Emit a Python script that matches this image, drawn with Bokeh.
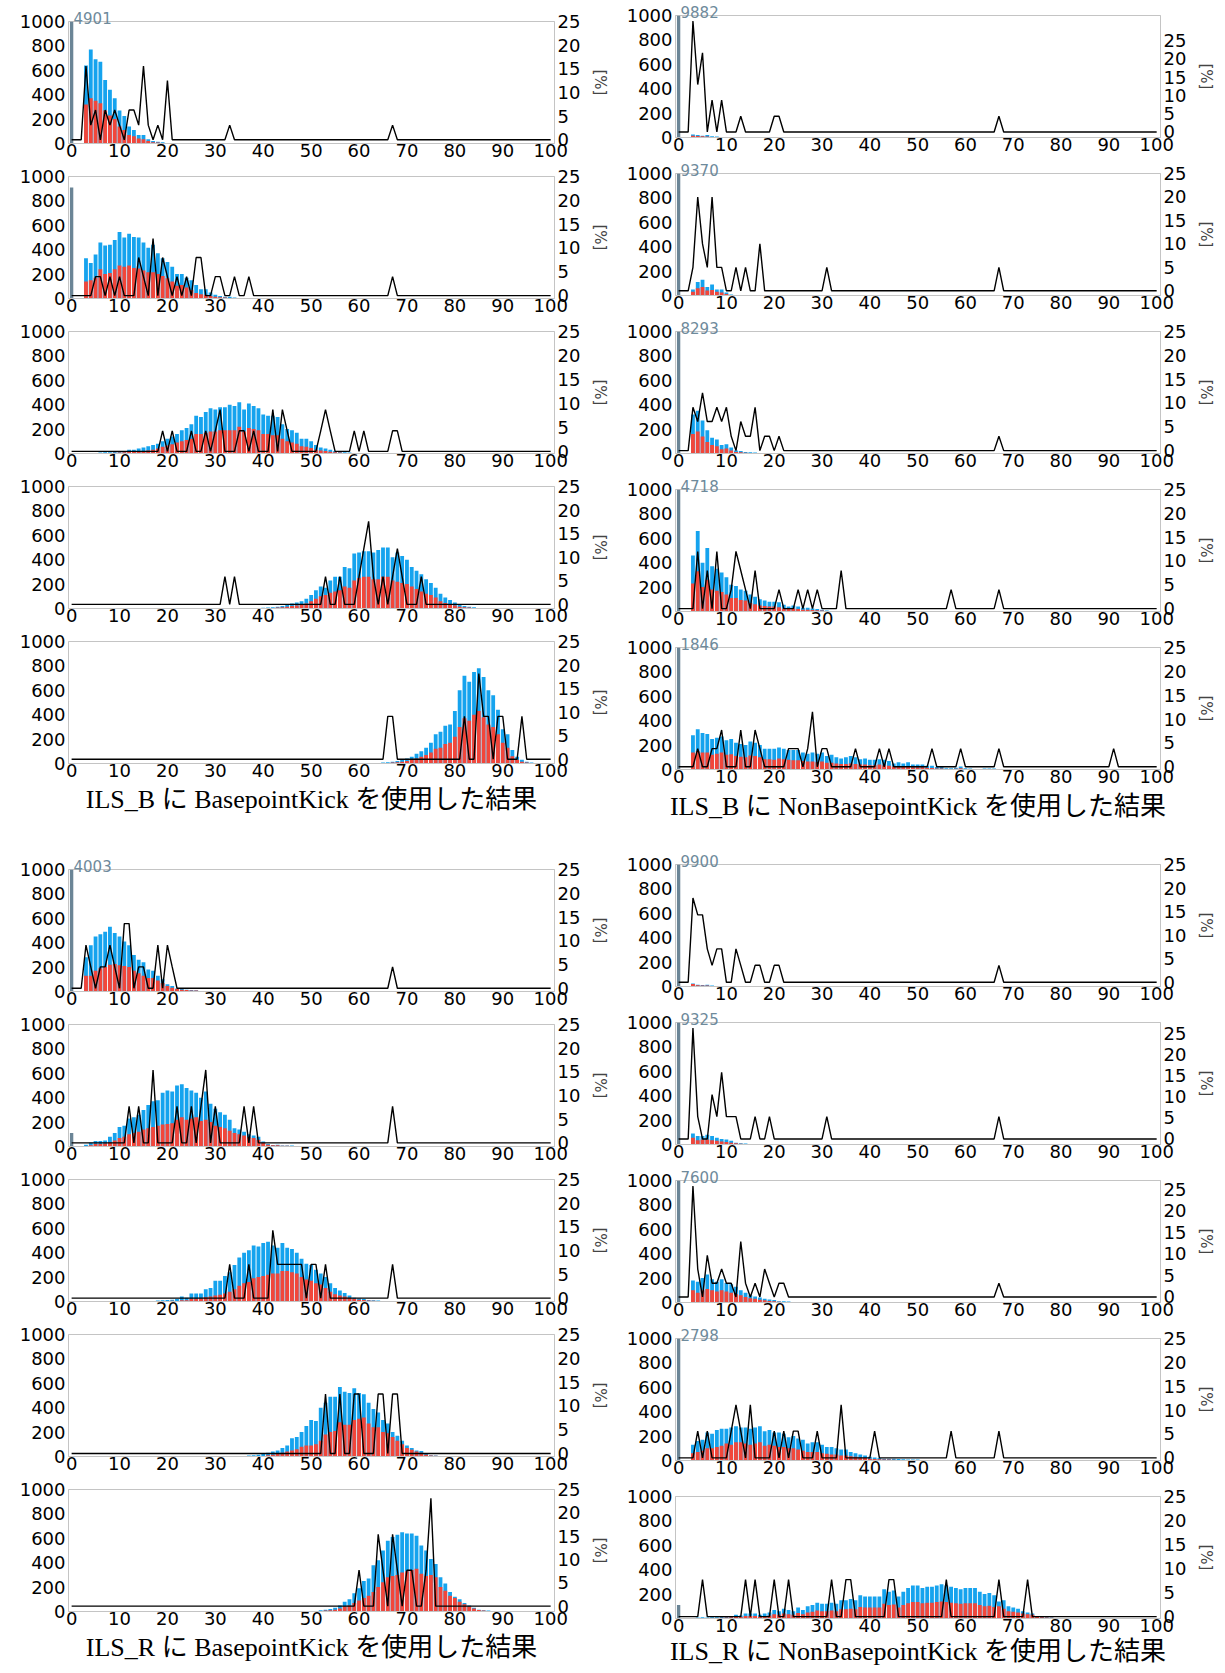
from bokeh.plotting import figure
from bokeh.layouts import column, row
from bokeh.models import Range1d, LinearAxis, FixedTicker, Spacer
from bokeh.embed import file_html
from bokeh.resources import INLINE

# ---------------- data ----------------
X_TICKS = list(range(0, 101, 10))
COUNT_TICKS = [0, 200, 400, 600, 800, 1000]
PCT_TICKS = [0, 5, 10, 15, 20, 25]

CAPTIONS = [
    "ILS_B に BasepointKick を使用した結果",
    "ILS_B に NonBasepointKick を使用した結果",
    "ILS_R に BasepointKick を使用した結果",
    "ILS_R に NonBasepointKick を使用した結果",
]

# ILS_B + BasepointKick (left, top group)
LB1_GRAY = 4901
LB1_START = 3
LB1_BLUE = [640, 770, 690, 670, 520, 440, 370, 270, 225, 140, 110, 70, 70, 35, 20, 15, 10, 5, 3, 5]
LB1_RED = [320, 370, 350, 330, 270, 230, 200, 140, 110, 70, 60, 40, 35, 20, 10, 8, 5, 3]
LB1_PCT = {3: 15.6, 4: 3.1, 5: 6.3, 7: 6.3, 8: 3.1, 9: 6.3, 10: 3.1, 12: 6.3, 13: 6.3, 14: 3.1,
           15: 15.6, 16: 3.1, 18: 3.1, 20: 12.5, 33: 3.1, 67: 3.1}

LB2_GRAY = 910
LB2_START = 3
LB2_BLUE = [330, 290, 360, 460, 435, 440, 480, 545, 500, 530, 505, 500, 460, 415, 440, 370, 330, 300,
            260, 200, 200, 170, 150, 110, 75, 75, 50, 30, 20, 15, 15, 8, 5, 5, 5, 3, 3, 3]
LB2_RED = [140, 150, 170, 240, 200, 210, 240, 270, 260, 270, 250, 245, 230, 215, 215, 200, 185, 165,
           140, 105, 110, 90, 70, 45, 35, 30, 20, 15, 10, 8, 5, 3]
LB2_PCT = {5: 4, 6: 4, 8: 4, 10: 4, 14: 8, 15: 4, 17: 12, 19: 8, 20: 4, 22: 4, 24: 4, 26: 8, 27: 8,
           30: 4, 31: 4, 34: 4, 37: 4, 67: 4}

LB3_GRAY = 0
LB3_START = 1
LB3_BLUE = [3, 3, 5, 5, 5, 8, 10, 10, 12, 15, 20, 30, 30, 40, 50, 60, 70, 80, 100, 120,
            140, 160, 190, 210, 240, 310, 300, 340, 370, 360, 380, 380, 400, 390, 420, 360, 410, 390, 370, 320,
            310, 310, 300, 240, 200, 190, 170, 120, 120, 100, 70, 50, 40, 30, 20, 15, 10, 8, 5, 5, 3, 3]
LB3_RED = [1, 1, 2, 2, 2, 4, 5, 5, 6, 8, 10, 15, 15, 20, 20, 25, 30, 40, 55, 65,
           75, 90, 100, 110, 120, 160, 160, 170, 180, 180, 190, 190, 190, 190, 220, 180, 210, 200, 190, 160,
           160, 150, 150, 120, 100, 90, 80, 60, 55, 45, 30, 25, 20, 15, 10, 8, 5, 4, 3, 2, 2, 1]
LB3_PCT = {19: 4.3, 21: 4.3, 25: 4.3, 28: 4.3, 30: 4.3, 31: 8.7, 35: 4.3, 36: 4.3, 38: 4.3, 42: 8.7,
           44: 8.7, 45: 4.3, 52: 4.3, 53: 8.7, 54: 4.3, 59: 4.3, 61: 4.3, 67: 4.3, 68: 4.3}

LB4_GRAY = 0
LB4_START = 31
LB4_BLUE = [3, 3, 3, 4, 4, 5, 5, 5, 5, 6, 8, 10, 15, 20, 30, 40, 50, 60, 80, 110,
            150, 180, 170, 230, 260, 260, 340, 330, 450, 460, 470, 470, 460, 480, 500, 500, 420, 460, 430, 400,
            340, 310, 280, 240, 210, 170, 120, 90, 70, 50, 30, 20, 15, 10, 5, 5, 3]
LB4_RED = [1, 1, 1, 2, 2, 2, 2, 3, 3, 3, 4, 5, 8, 10, 15, 20, 25, 30, 40, 60,
           80, 100, 110, 130, 140, 150, 180, 170, 230, 250, 260, 260, 240, 240, 260, 260, 230, 220, 210, 200,
           180, 160, 140, 120, 110, 90, 60, 45, 35, 25, 15, 10, 8, 5, 3, 2, 1]
LB4_PCT = {32: 5.9, 34: 5.9, 53: 5.9, 56: 5.9, 60: 5.9, 61: 11.8, 62: 17.6, 63: 5.9, 65: 5.9,
           67: 5.9, 68: 11.8, 69: 5.9, 73: 5.9}

LB5_GRAY = 0
LB5_START = 61
LB5_BLUE = [3, 3, 5, 5, 8, 10, 15, 20, 30, 40, 55, 80, 100, 130, 170, 240, 260, 310, 320, 430,
            600, 720, 670, 750, 780, 710, 600, 560, 440, 280, 240, 110, 55, 30, 15, 8, 4]
LB5_RED = [1, 1, 2, 2, 4, 5, 8, 10, 15, 20, 30, 40, 55, 70, 90, 120, 130, 160, 170, 220,
           300, 370, 350, 400, 430, 380, 320, 300, 240, 170, 130, 60, 30, 15, 8, 4, 2]
LB5_PCT = {66: 9.1, 67: 9.1, 82: 9.1, 85: 18.2, 86: 9.1, 87: 9.1, 89: 9.1, 90: 9.1, 94: 9.1}

# ILS_B + NonBasepointKick (right, top group)
RB1_GRAY = 9882
RB1_START = 3
RB1_BLUE = [25, 20, 15, 20, 10, 8, 5, 3, 3, 2, 2, 2]
RB1_RED = [15, 12, 10, 8, 5, 4, 3, 2, 1, 1, 1, 1]
RB1_PCT = {3: 30.4, 4: 13.0, 5: 21.7, 7: 8.7, 9: 8.7, 13: 4.3, 20: 4.3, 21: 4.3, 67: 4.3}

RB2_GRAY = 9370
RB2_START = 3
RB2_BLUE = [50, 110, 130, 70, 90, 50, 50, 25, 8, 5, 3, 2, 2, 2, 3]
RB2_RED = [30, 60, 70, 40, 45, 30, 25, 12, 5, 3, 2, 1, 1, 1, 2]
RB2_PCT = {3: 5, 4: 20, 5: 10, 6: 5, 7: 20, 8: 5, 9: 5, 12: 5, 14: 5, 17: 10, 31: 5, 67: 5}

RB3_GRAY = 8293
RB3_START = 3
RB3_BLUE = [320, 350, 270, 190, 130, 115, 70, 75, 50, 25, 20, 12, 10, 8, 5, 5, 3, 3, 2, 2, 2, 2, 2, 2, 2, 2]
RB3_RED = [160, 180, 140, 95, 70, 60, 35, 40, 25, 12, 10, 6, 5, 4, 3, 2, 2, 1]
RB3_PCT = {3: 9.1, 4: 6.1, 5: 12.1, 6: 6.1, 7: 6.1, 8: 9.1, 9: 6.1, 10: 9.1, 11: 3.0, 13: 6.1,
           14: 3.0, 15: 3.0, 16: 9.1, 18: 3.0, 19: 3.0, 21: 3.0, 67: 3.0}

RB4_GRAY = 4718
RB4_START = 3
RB4_BLUE = [460, 660, 400, 520, 370, 350, 320, 280, 220, 210, 180, 170, 140, 120, 100, 90, 80, 80,
            75, 55, 40, 50, 40, 30, 30, 25, 20, 15, 8, 5, 5, 5, 3, 3, 3, 2, 2, 2, 2, 2,
            2, 2, 2, 2, 2, 2, 2, 2, 2, 2]
RB4_RED = [230, 330, 200, 260, 180, 170, 160, 140, 110, 110, 95, 90, 70, 60, 50, 45, 40, 40,
           35, 25, 20, 25, 20, 15, 15, 12, 10, 8, 4, 3, 3, 2, 2, 1, 1, 1, 1, 1]
RB4_PCT = {4: 12, 6: 8, 8: 12, 11: 4, 12: 12, 13: 8, 14: 4, 16: 8, 21: 4, 25: 4, 27: 4, 29: 4,
           34: 8, 57: 4, 67: 4}

RB5_GRAY = 1846
RB5_START = 3
RB5_BLUE = [280, 330, 300, 290, 250, 260, 270, 240,
            250, 220, 210, 200, 230, 220, 200, 170, 170, 170,
            180, 170, 160, 160, 160, 140, 130, 140, 130, 140,
            110, 120, 100, 90, 100, 110, 100, 85, 90, 80,
            80, 85, 80, 70, 50, 60, 50, 60, 40, 40,
            40, 30, 30, 20, 20, 10, 10, 15, 25, 10,
            8, 5, 5, 8, 8, 8, 5, 3, 3, 3, 2, 2, 2, 2, 2]
RB5_RED = [140, 150, 140, 140, 120, 130, 140, 120,
           125, 110, 105, 100, 115, 110, 100, 85, 85, 80,
           90, 85, 80, 75, 75, 70, 65, 65, 60, 65,
           55, 55, 50, 45, 45, 50, 45, 40, 40, 35,
           35, 40, 35, 30, 25, 25, 25, 25, 18, 18,
           18, 12, 12, 8, 8, 5, 5, 6, 10, 5,
           4, 3, 3, 4, 4, 4, 3, 2, 2, 2, 1, 1, 1, 1, 1]
RB5_PCT = {4: 3.8, 7: 3.8, 8: 3.8, 9: 7.7, 13: 7.7, 16: 7.7, 17: 3.8, 23: 3.8, 24: 3.8, 25: 3.8,
           27: 3.8, 28: 11.5, 30: 3.8, 31: 3.8, 37: 3.8, 42: 3.8, 44: 3.8, 53: 3.8, 59: 3.8,
           67: 3.8, 91: 3.8}

# ILS_R + BasepointKick (left, bottom group)
LR1_GRAY = 4003
LR1_START = 3
LR1_BLUE = [280, 380, 450, 470, 490, 530, 480, 450, 410, 380, 300, 260, 240, 180, 170, 130, 100, 60,
            45, 25, 20, 15, 12, 10, 5, 5, 3, 3]
LR1_RED = [130, 130, 170, 190, 200, 220, 225, 215, 210, 200, 170, 150, 130, 110, 110, 90, 70, 45,
           30, 20, 15, 12, 8, 8, 5, 4, 3, 3]
LR1_PCT = {3: 9.1, 4: 4.5, 6: 4.5, 7: 4.5, 8: 9.1, 9: 4.5, 11: 13.6, 12: 13.6, 14: 4.5, 15: 4.5,
           18: 9.1, 20: 9.1, 21: 4.5, 67: 4.5}

LR2_GRAY = 110
LR2_START = 3
LR2_BLUE = [15, 30, 45, 45, 50, 80, 110, 160,
            170, 230, 240, 260, 300, 340, 370, 380, 440, 460,
            450, 500, 510, 480, 460, 440, 400, 450, 350, 310,
            280, 260, 220, 150, 140, 120, 100, 90, 80, 40,
            20, 12, 15, 8, 8, 8, 5, 5, 3, 3, 3, 2]
LR2_RED = [5, 10, 20, 20, 25, 35, 50, 70,
           80, 100, 110, 120, 140, 150, 160, 170, 180, 185,
           190, 220, 240, 220, 230, 240, 210, 220, 200, 170,
           160, 150, 130, 110, 100, 90, 75, 70, 55, 30,
           15, 10, 10, 6, 6, 5, 4, 3, 2, 2, 1, 1]
LR2_PCT = {12: 7.7, 14: 7.7, 17: 15.4, 22: 7.7, 25: 7.7, 27: 7.7, 28: 15.4, 30: 7.7, 36: 7.7,
           38: 7.7, 67: 7.7}

LR3_GRAY = 0
LR3_START = 14
LR3_BLUE = [3, 3, 5, 5, 8, 10, 12,
            15, 20, 40, 30, 65, 65, 65, 100, 110, 170,
            170, 210, 240, 300, 360, 400, 420, 460, 450, 480,
            490, 460, 440, 480, 440, 430, 400, 350, 310, 300,
            260, 230, 200, 150, 110, 90, 70, 50, 30, 25,
            20, 12, 10, 8, 5, 5, 3]
LR3_RED = [1, 1, 2, 2, 3, 4, 5,
           6, 5, 10, 10, 20, 20, 25, 35, 40, 50,
           55, 65, 80, 100, 130, 150, 160, 190, 200, 210,
           220, 230, 230, 250, 250, 240, 230, 200, 180, 170,
           150, 140, 110, 80, 60, 50, 40, 30, 20, 15,
           12, 8, 6, 5, 4, 3, 3]
LR3_PCT = {33: 7.1, 37: 7.1, 42: 14.3, 43: 7.1, 44: 7.1, 45: 7.1, 46: 7.1, 47: 7.1, 48: 7.1,
           50: 7.1, 51: 7.1, 53: 7.1, 67: 7.1}

LR4_GRAY = 0
LR4_START = 35
LR4_BLUE = [3, 5, 8, 10, 15, 20,
            30, 40, 50, 70, 90, 150, 160, 200, 250, 300,
            290, 400, 440, 490, 490, 570, 530, 520, 560, 520,
            510, 440, 390, 360, 300, 270, 200, 170, 130, 90,
            70, 50, 45, 20, 10, 8, 5, 3]
LR4_RED = [1, 2, 3, 4, 5, 5,
           10, 15, 20, 30, 40, 50, 60, 80, 90, 90,
           100, 130, 180, 200, 210, 280, 260, 260, 300, 310,
           320, 270, 240, 240, 200, 190, 160, 130, 100, 70,
           55, 40, 30, 15, 8, 6, 4, 3]
LR4_PCT = {53: 12.5, 56: 12.5, 59: 12.5, 60: 12.5, 64: 12.5, 65: 12.5, 67: 12.5, 68: 12.5}

LR5_GRAY = 0
LR5_START = 46
LR5_BLUE = [3, 3, 3, 3, 5,
            5, 10, 15, 20, 30, 50, 80, 100, 150, 190,
            250, 270, 380, 420, 500, 580, 610, 630, 650, 640,
            640, 620, 540, 500, 430, 390, 280, 230, 160, 120,
            100, 70, 50, 30, 15, 10, 8, 5, 3]
LR5_RED = [1, 1, 1, 1, 2,
           3, 5, 8, 10, 15, 25, 40, 50, 70, 90,
           110, 130, 160, 200, 240, 280, 290, 300, 320, 330,
           340, 350, 310, 290, 300, 280, 200, 170, 130, 110,
           80, 60, 40, 25, 12, 8, 5, 4, 3]
LR5_PCT = {60: 7.7, 64: 15.4, 65: 7.7, 67: 15.4, 68: 7.7, 70: 7.7, 71: 7.7, 74: 7.7, 75: 23.1}

# ILS_R + NonBasepointKick (right, bottom group)
RR1_GRAY = 9900
RR1_START = 3
RR1_BLUE = [25, 15, 12, 15, 8, 5, 5, 3, 3, 3]
RR1_RED = [20, 10, 8, 8, 5, 3, 3, 2, 2, 2]
RR1_PCT = {3: 17.9, 4: 14.3, 5: 14.3, 6: 7.1, 7: 3.6, 8: 7.1, 9: 7.1, 12: 7.1, 13: 3.6, 16: 3.6,
           17: 3.6, 20: 3.6, 21: 3.6, 67: 3.6}

RR2_GRAY = 9325
RR2_START = 3
RR2_BLUE = [90, 70, 70, 80, 70, 55, 45, 40, 30, 15, 10, 8, 5, 5, 3, 3, 2, 2, 2, 2, 2, 2]
RR2_RED = [55, 35, 40, 40, 35, 30, 25, 20, 15, 10, 6, 5, 4, 3, 2, 2, 2, 2, 2, 2, 2, 2]
RR2_PCT = {3: 26.3, 4: 5.3, 7: 10.5, 8: 5.3, 9: 15.8, 10: 5.3, 11: 5.3, 12: 5.3, 16: 5.3, 19: 5.3,
           31: 5.3, 67: 5.3}

RR3_GRAY = 7600
RR3_START = 3
RR3_BLUE = [180, 170, 200, 230, 190, 170, 190, 160, 150, 130, 100, 80, 60, 50, 40, 30, 25, 20,
            10, 10, 8, 5, 5, 5, 3, 3, 5, 3]
RR3_RED = [100, 80, 100, 110, 100, 90, 100, 90, 80, 70, 60, 45, 35, 30, 22, 18, 13, 10,
           6, 5, 4, 3, 2, 2, 2, 2, 2, 2]
RR3_PCT = {3: 25.8, 4: 6.5, 6: 9.7, 7: 3.2, 8: 3.2, 9: 6.5, 10: 3.2, 11: 3.2, 13: 12.9, 14: 3.2,
           16: 3.2, 18: 6.5, 19: 3.2, 21: 3.2, 22: 3.2, 67: 3.2}

RR4_GRAY = 2798
RR4_START = 3
RR4_BLUE = [130, 160, 170, 230, 220, 250, 260, 260,
            270, 280, 270, 270, 260, 270, 280, 240, 250, 230,
            230, 220, 190, 200, 180, 170, 140, 150, 150, 130,
            110, 110, 100, 90, 90, 70, 60, 50, 40, 30,
            25, 20, 15, 15, 15, 12, 10, 8, 8, 8,
            5, 5, 5, 3, 3, 3, 3, 3, 2, 2]
RR4_RED = [60, 70, 80, 100, 100, 110, 120, 140,
           130, 150, 150, 140, 130, 140, 150, 120, 130, 120,
           110, 110, 100, 100, 90, 80, 70, 70, 70, 60,
           55, 50, 50, 40, 40, 35, 30, 25, 20, 15,
           12, 10, 8, 8, 6, 5, 4, 3, 3, 3,
           2, 2, 2, 1, 1, 1, 1, 1, 1, 1]
RR4_PCT = {4: 5.6, 6: 5.6, 11: 5.6, 12: 11.1, 13: 5.6, 15: 11.1, 20: 5.6, 22: 5.6, 24: 5.6,
           25: 5.6, 29: 5.6, 34: 11.1, 41: 5.6, 57: 5.6, 67: 5.6}

RR5_GRAY = 110
RR5_START = 3
RR5_BLUE = [3, 8, 10, 8, 10, 10, 12, 15,
            20, 30, 25, 40, 40, 40, 30, 40, 50, 70,
            60, 80, 70, 60, 90, 70, 100, 110, 130, 120,
            120, 130, 120, 150, 150, 160, 150, 190, 180, 180,
            180, 180, 240, 220, 230, 180, 220, 250, 270, 270,
            250, 260, 260, 270, 280, 270, 260, 250, 240, 250,
            250, 250, 220, 200, 210, 190, 140, 150, 100, 90,
            80, 60, 50, 40, 20, 15, 10, 8, 5, 5, 3]
RR5_RED = [2, 4, 5, 4, 5, 5, 6, 8,
           10, 15, 12, 20, 20, 20, 15, 20, 25, 35,
           30, 40, 35, 30, 45, 35, 50, 55, 65, 60,
           60, 65, 60, 75, 75, 80, 75, 95, 90, 90,
           90, 90, 120, 110, 115, 90, 110, 125, 135, 135,
           125, 130, 130, 135, 140, 135, 130, 125, 120, 125,
           125, 125, 110, 100, 105, 95, 100, 80, 60, 55,
           50, 40, 35, 30, 15, 10, 8, 6, 4, 3, 2]
RR5_PCT = {5: 7.7, 14: 7.7, 16: 7.7, 20: 7.7, 23: 7.7, 32: 7.7, 35: 7.7, 36: 7.7, 44: 7.7,
           45: 7.7, 56: 7.7, 67: 7.7, 73: 7.7}

# ---------------- style ----------------
BLUE = "#15a3ee"
RED = "#f2463a"
GRAY = "#6b8596"
LABEL_GRAY = "#6e8a9b"
FRAME = "#c4c4c4"
TICK_FONT = "DejaVu Sans"
CAPTION_FONT = "Liberation Serif, Noto Sans CJK JP"


def make_panel(gray, start, blue, red, pct, col, caption=None, extra=0, cap_standoff=6):
    if col == 0:
        h, ml, mr, mt, mb = 155, 68, 58, 12, 21
    else:
        h, ml, mr, mt, mb = 158, 63, 64, 12, 24
    pmax = max(pct.values())
    lo = -0.05 * pmax
    hi = max(25.0, 1.05 * pmax)
    p = figure(width=612, height=h + extra, x_range=Range1d(-0.65, 100.8), y_range=Range1d(0, 1000),
               output_backend="svg", toolbar_location=None, tools="",
               min_border_left=ml, min_border_right=mr, min_border_top=mt,
               min_border_bottom=mb + extra)
    p.extra_y_ranges = {"pct": Range1d(lo, hi)}
    p.grid.visible = False
    p.outline_line_color = FRAME
    p.background_fill_color = "white"
    p.border_fill_color = "white"

    bx = list(range(start, start + len(blue)))
    rx = list(range(start, start + len(red)))
    p.vbar(x=bx, top=blue, bottom=0, width=0.8, fill_color=BLUE, line_color=None)
    p.vbar(x=rx, top=red, bottom=0, width=0.8, fill_color=RED, line_color=None)
    if gray > 0:
        p.vbar(x=[0], top=[gray], bottom=0, width=0.7, fill_color=GRAY, line_color=None)
    xs = list(range(0, 101))
    ys = [pct.get(i, 0) for i in xs]
    p.line(xs, ys, y_range_name="pct", line_color="black", line_width=1.4)

    pax = LinearAxis(y_range_name="pct", ticker=FixedTicker(ticks=PCT_TICKS), axis_label="[%]")
    p.add_layout(pax, "right")
    p.xaxis.ticker = FixedTicker(ticks=X_TICKS)
    p.yaxis[0].ticker = FixedTicker(ticks=COUNT_TICKS)
    for a in p.axis:
        a.axis_line_color = FRAME
        a.major_tick_line_color = None
        a.minor_tick_line_color = None
        a.major_tick_out = 0
        a.major_tick_in = 0
        a.major_label_text_font = TICK_FONT
        a.major_label_text_font_size = "18px"
        a.major_label_text_color = "black"
        a.major_label_standoff = 3
    p.xaxis.major_label_standoff = 0
    pax.axis_label_text_font = TICK_FONT
    pax.axis_label_text_font_size = "15px"
    pax.axis_label_text_font_style = "normal"
    pax.axis_label_standoff = 8

    if caption is not None:
        xa = p.xaxis[0]
        xa.axis_label = caption
        xa.axis_label_text_font = CAPTION_FONT
        xa.axis_label_text_font_size = "26px"
        xa.axis_label_text_font_style = "normal"
        xa.axis_label_text_color = "black"
        xa.axis_label_standoff = cap_standoff

    # count of the x=0 bin, written above the frame when the bar runs off the top
    if gray > 1000:
        p.title.text = str(gray)
        p.title.align = "left"
        p.title.offset = 5
        p.title.standoff = -5
        p.title.text_font = TICK_FONT
        p.title.text_font_size = "15px"
        p.title.text_font_style = "normal"
        p.title.text_color = LABEL_GRAY
    return p


LEFT_TOP = [(LB1_GRAY, LB1_START, LB1_BLUE, LB1_RED, LB1_PCT),
            (LB2_GRAY, LB2_START, LB2_BLUE, LB2_RED, LB2_PCT),
            (LB3_GRAY, LB3_START, LB3_BLUE, LB3_RED, LB3_PCT),
            (LB4_GRAY, LB4_START, LB4_BLUE, LB4_RED, LB4_PCT),
            (LB5_GRAY, LB5_START, LB5_BLUE, LB5_RED, LB5_PCT)]
RIGHT_TOP = [(RB1_GRAY, RB1_START, RB1_BLUE, RB1_RED, RB1_PCT),
             (RB2_GRAY, RB2_START, RB2_BLUE, RB2_RED, RB2_PCT),
             (RB3_GRAY, RB3_START, RB3_BLUE, RB3_RED, RB3_PCT),
             (RB4_GRAY, RB4_START, RB4_BLUE, RB4_RED, RB4_PCT),
             (RB5_GRAY, RB5_START, RB5_BLUE, RB5_RED, RB5_PCT)]
LEFT_BOT = [(LR1_GRAY, LR1_START, LR1_BLUE, LR1_RED, LR1_PCT),
            (LR2_GRAY, LR2_START, LR2_BLUE, LR2_RED, LR2_PCT),
            (LR3_GRAY, LR3_START, LR3_BLUE, LR3_RED, LR3_PCT),
            (LR4_GRAY, LR4_START, LR4_BLUE, LR4_RED, LR4_PCT),
            (LR5_GRAY, LR5_START, LR5_BLUE, LR5_RED, LR5_PCT)]
RIGHT_BOT = [(RR1_GRAY, RR1_START, RR1_BLUE, RR1_RED, RR1_PCT),
             (RR2_GRAY, RR2_START, RR2_BLUE, RR2_RED, RR2_PCT),
             (RR3_GRAY, RR3_START, RR3_BLUE, RR3_RED, RR3_PCT),
             (RR4_GRAY, RR4_START, RR4_BLUE, RR4_RED, RR4_PCT),
             (RR5_GRAY, RR5_START, RR5_BLUE, RR5_RED, RR5_PCT)]


def build_group(data, col, caption, extra, cap_standoff):
    figs = []
    for i, d in enumerate(data):
        if i == len(data) - 1:
            figs.append(make_panel(*d, col=col, caption=caption, extra=extra, cap_standoff=cap_standoff))
        else:
            figs.append(make_panel(*d, col=col))
    return figs


left_items = [Spacer(width=612, height=9)]
left_items += build_group(LEFT_TOP, 0, CAPTIONS[0], 73, 5)
left_items += build_group(LEFT_BOT, 0, CAPTIONS[2], 40, 5)

right_items = [Spacer(width=612, height=3)]
right_items += build_group(RIGHT_TOP, 1, CAPTIONS[1], 59, 6)
right_items += build_group(RIGHT_BOT, 1, CAPTIONS[3], 30, 2)

layout = row(column(*left_items), column(*right_items))

open("out.html", "w").write(file_html(layout, INLINE))
